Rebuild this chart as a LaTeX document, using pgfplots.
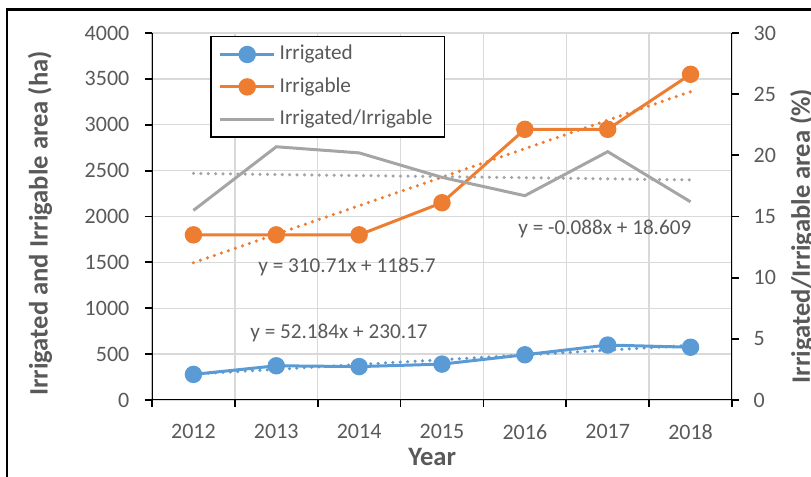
\documentclass[border=0pt]{standalone}
\usepackage{fontspec}
\setmainfont{Carlito}
\usepackage{pgfplots}
\usepackage{pgfplotstable}
\pgfplotsset{compat=1.18}
\definecolor{cblue}{HTML}{5B9BD5}
\definecolor{corange}{HTML}{ED7D31}
\definecolor{cgray}{HTML}{A5A5A5}
\definecolor{cgrid}{HTML}{D9D9D9}
\definecolor{ctext}{HTML}{595959}
\pgfplotstableread{
x irrigated irrigable ratio
1 279 1800 15.5
2 373 1800 20.7
3 364 1800 20.2
4 391 2150 18.2
5 493 2950 16.7
6 599 2950 20.3
7 575 3550 16.2
}\data
\tikzset{lab/.style={font=\bfseries\fontsize{13.3}{15}\selectfont, text=ctext}}
\pgfplotsset{
  base/.style={
    scale only axis, width=290pt, height=183.5pt,
    xmin=0.5, xmax=7.5,
    axis line style={draw=none},
    tick align=outside,
    major tick length=3.5pt,
    tick style={black, line width=0.9pt},
    tick label style={font=\fontsize{11}{13}\selectfont, text=ctext},
    /pgf/number format/assume math mode=true,
    /pgf/number format/1000 sep={},
  },
  trend/.style={line width=1.75pt, dash pattern=on 0pt off 3.7pt, line cap=round, forget plot},
  ser/.style={line width=1.5pt, mark=*, mark size=3.6pt, mark options={solid}},
}
\begin{document}
\begin{tikzpicture}
\begin{axis}[base,
  xtick pos=bottom, ytick pos=left,
  ymin=0, ymax=4000, ytick={0,500,...,4000},
  yticklabel shift=4.3pt,
  xtick={0.5,1.5,...,7.5}, xticklabels={},
  extra x ticks={1,2,3,4,5,6,7},
  extra x tick labels={2012,2013,2014,2015,2016,2017,2018},
  extra x tick style={grid=none, major tick length=0pt},
  xticklabel style={yshift=-8.8pt},
  grid=major, major grid style={cgrid, line width=0.65pt},
  ylabel={Irrigated and Irrigable area (ha)}, xlabel={Year},
  ylabel style={lab, at={(axis description cs:-0.193,0.481)}, anchor=center},
  xlabel style={lab, at={(axis description cs:0.483,-0.155)}, anchor=center},
]
\addplot[ser, cblue, mark options={fill=cblue}] table[x=x, y=irrigated] {\data};
\addplot[ser, corange, mark options={fill=corange}] table[x=x, y=irrigable] {\data};
\addplot[trend, cblue] coordinates {(1,282.35) (7,595.46)};
\addplot[trend, corange] coordinates {(1,1496.41) (7,3360.67)};
\node[anchor=west, inner sep=0pt, text=ctext, font=\fontsize{10.6}{12}\selectfont] at (axis cs:1.78,1450) {y = 310.71x + 1185.7};
\node[anchor=west, inner sep=0pt, text=ctext, font=\fontsize{10.6}{12}\selectfont] at (axis cs:1.683,730) {y = 52.184x + 230.17};
\node[anchor=west, inner sep=0pt, text=ctext, font=\fontsize{10.6}{12}\selectfont] at (axis cs:4.917,1864) {y = -0.088x + 18.609};
\draw[black, line width=1pt] (rel axis cs:0,1) -- (rel axis cs:0,0) -- (rel axis cs:1,0);
\end{axis}
\begin{axis}[base,
  hide x axis,
  ytick pos=right, yticklabel pos=right,
  ymin=0, ymax=30, ytick={0,5,...,30},
  yticklabel shift=3.8pt,
  ylabel={Irrigated/Irrigable area (\%)},
  ylabel style={lab, at={(axis description cs:1.121,0.447)}, anchor=center},
  legend style={at={(rel axis cs:0.1,0.992)}, anchor=north west, draw=black, line width=0.75pt,
    inner xsep=4pt, inner ysep=2pt, font=\fontsize{10.6}{12}\selectfont, text=ctext,
    row sep=2.4pt, nodes={inner sep=2pt, text height=7.5pt, text depth=2.3pt}},
  legend cell align=left,
  legend image code/.code={\draw[mark repeat=2, mark phase=2, #1] plot coordinates {(0pt,0pt) (13.5pt,0pt) (27pt,0pt)};},
]
\addlegendimage{ser, cblue, mark options={fill=cblue}}
\addlegendentry{Irrigated}
\addlegendimage{ser, corange, mark options={fill=corange}}
\addlegendentry{Irrigable}
\addplot[cgray, line width=1.5pt] table[x=x, y=ratio] {\data};
\addlegendentry{Irrigated/Irrigable}
\addplot[trend, cgray] coordinates {(1,18.521) (7,17.993)};
\draw[black, line width=1pt] (rel axis cs:1,0) -- (rel axis cs:1,1);
\end{axis}
\draw[line width=1.4pt] (-72.5pt,-60pt) rectangle (340pt,195.25pt);
\pgfresetboundingbox
\path[use as bounding box] (-76pt,-38.5pt) rectangle (329.5pt,200pt);
\end{tikzpicture}
\end{document}
